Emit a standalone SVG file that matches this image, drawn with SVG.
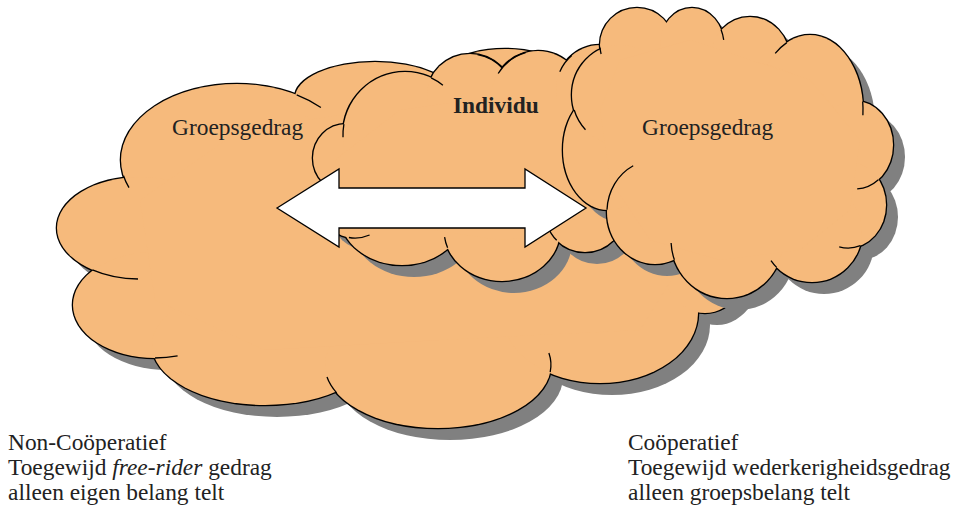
<svg xmlns="http://www.w3.org/2000/svg" width="960" height="507" viewBox="0 0 960 507">
<style>
.t{font-family:"Liberation Serif","Times New Roman",serif;font-size:23.4px;fill:#222}
.b{font-weight:bold}
.tail{fill:none;stroke:#000;stroke-width:1.3}
.sh{fill:#808080}
.ol{fill:none;stroke:#000;stroke-width:2.6}
.fl{fill:#F6BA7C}
</style>
<defs>
<g id="c1shape">
<ellipse cx="237" cy="160" rx="116" ry="76"/>
<ellipse cx="140" cy="228" rx="83" ry="51"/>
<ellipse cx="155" cy="305" rx="82" ry="53"/>
<ellipse cx="265" cy="345" rx="113" ry="60"/>
<ellipse cx="438" cy="365" rx="113" ry="63"/>
<ellipse cx="600" cy="313" rx="98" ry="70"/>
<ellipse cx="705" cy="240" rx="50" ry="73"/>
<ellipse cx="375" cy="98" rx="80" ry="36"/>
<ellipse cx="505" cy="105" rx="85" ry="56"/>
<polygon points="140,200 240,130 375,110 505,100 600,150 690,250 640,330 440,340 265,350 155,300"/>
</g>
<g id="c2shape">
<ellipse cx="346" cy="158" rx="33" ry="34"/>
<ellipse cx="405" cy="135" rx="62" ry="63"/>
<ellipse cx="470" cy="96" rx="43" ry="42"/>
<ellipse cx="538" cy="102" rx="48" ry="51"/>
<ellipse cx="600" cy="90" rx="44" ry="45"/>
<ellipse cx="355" cy="205" rx="35" ry="33"/>
<ellipse cx="402" cy="215" rx="62" ry="50"/>
<ellipse cx="502" cy="230" rx="58" ry="51"/>
<ellipse cx="585" cy="212" rx="40" ry="40"/>
<polygon points="335,160 400,110 470,100 540,100 600,100 615,180 600,235 560,235 500,240 400,225 350,215"/>
</g>
<g id="c3shape">
<ellipse cx="637" cy="45" rx="37" ry="37"/>
<ellipse cx="692" cy="45" rx="32" ry="37"/>
<ellipse cx="750" cy="60" rx="40" ry="43"/>
<ellipse cx="810" cy="110" rx="53" ry="75"/>
<ellipse cx="855" cy="145" rx="38" ry="44"/>
<ellipse cx="848" cy="205" rx="38" ry="43"/>
<ellipse cx="812" cy="232" rx="50" ry="50"/>
<ellipse cx="727" cy="240" rx="56" ry="58"/>
<ellipse cx="655" cy="212" rx="48" ry="52"/>
<ellipse cx="608" cy="150" rx="45" ry="60"/>
<ellipse cx="620" cy="95" rx="48" ry="50"/>
<ellipse cx="730" cy="155" rx="120" ry="95"/>
<polygon points="620,60 690,40 750,60 810,80 860,140 850,210 800,250 720,260 650,240 610,180 600,110"/>
</g>
</defs>

<g id="cloud-groep-links">
<use href="#c1shape" class="sh" transform="translate(12,12)"/>
<use href="#c1shape" class="ol"/>
<use href="#c1shape" class="fl"/>
<path class="tail" d="M123.5,175.8 A116,76 0 0 0 129,187.7"/>
<path class="tail" d="M296.7,94.9 A116,76 0 0 1 320.9,107.5"/>
<path class="tail" d="M92.4,269.8 A83,51 0 0 0 138,279"/>
<path class="tail" d="M155,358 A82,53 0 0 0 177.6,355.9"/>
<path class="tail" d="M336.7,392.9 A113,63 0 0 1 327,377"/>
<path class="tail" d="M550.2,372.2 A113,63 0 0 0 548.9,353"/>
<text class="t" x="172" y="135">Groepsgedrag</text>
</g>

<g id="cloud-individu">
<use href="#c2shape" class="sh" transform="translate(12,12)"/>
<use href="#c2shape" class="ol"/>
<use href="#c2shape" class="fl"/>
<path class="tail" d="M343.9,124.1 A62,63 0 0 0 343,137.2"/>
<path class="tail" d="M431.2,77.9 A62,63 0 0 1 442.9,85.2"/>
<path class="tail" d="M477.5,54.6 A43,42 0 0 1 502,67.9"/>
<path class="tail" d="M498.2,73.5 A48,51 0 0 1 525.6,52.7"/>
<path class="tail" d="M559.8,71.7 A44,45 0 0 1 571.7,55.5"/>
<path class="tail" d="M348.9,237.5 A35,33 0 0 0 369.6,235"/>
<path class="tail" d="M447.6,247.8 A58,51 0 0 1 444.6,237.1"/>
<path class="tail" d="M556.7,240.3 A40,40 0 0 1 547.4,225.7"/>
<text class="t b" x="453" y="113">Individu</text>
</g>

<g id="cloud-groep-rechts">
<use href="#c3shape" class="sh" transform="translate(12,12)"/>
<use href="#c3shape" class="ol"/>
<use href="#c3shape" class="fl"/>
<path class="tail" d="M600.1,47.6 A37,37 0 0 0 601.1,54"/>
<path class="tail" d="M721,29.4 A32,37 0 0 1 723.7,39.9"/>
<path class="tail" d="M786.8,42.6 A53,75 0 0 0 775.2,53.4"/>
<path class="tail" d="M862.7,101.5 A53,75 0 0 1 862.9,115.2"/>
<path class="tail" d="M878.4,179.7 A38,44 0 0 1 857.2,188.9"/>
<path class="tail" d="M860.4,245.7 A38,43 0 0 1 839.2,246.8"/>
<path class="tail" d="M776.6,267.4 A50,50 0 0 1 771,260.7"/>
<path class="tail" d="M674.4,259.8 A56,58 0 0 1 671.1,243"/>
<path class="tail" d="M607,209.7 A48,52 0 0 1 633.2,165.7"/>
<path class="tail" d="M574.2,110 A48,50 0 0 0 585.5,129.7"/>
<text class="t" x="642" y="135">Groepsgedrag</text>
</g>

<g id="connectors">
<polygon points="277,208 339,169 339,188 525,188 525,169 586,208 525,247 525,228 339,228 339,247" fill="#fff" stroke="#000" stroke-width="1.3" stroke-linejoin="miter"/>
</g>

<g id="label-links">
<text class="t" x="8" y="450">Non-Coöperatief</text>
<text class="t" x="8" y="475">Toegewijd <tspan font-style="italic">free-rider</tspan> gedrag</text>
<text class="t" x="8" y="500">alleen eigen belang telt</text>
</g>
<g id="label-rechts">
<text class="t" x="628" y="450">Coöperatief</text>
<text class="t" x="628" y="475">Toegewijd wederkerigheidsgedrag</text>
<text class="t" x="628" y="500">alleen groepsbelang telt</text>
</g>
</svg>
